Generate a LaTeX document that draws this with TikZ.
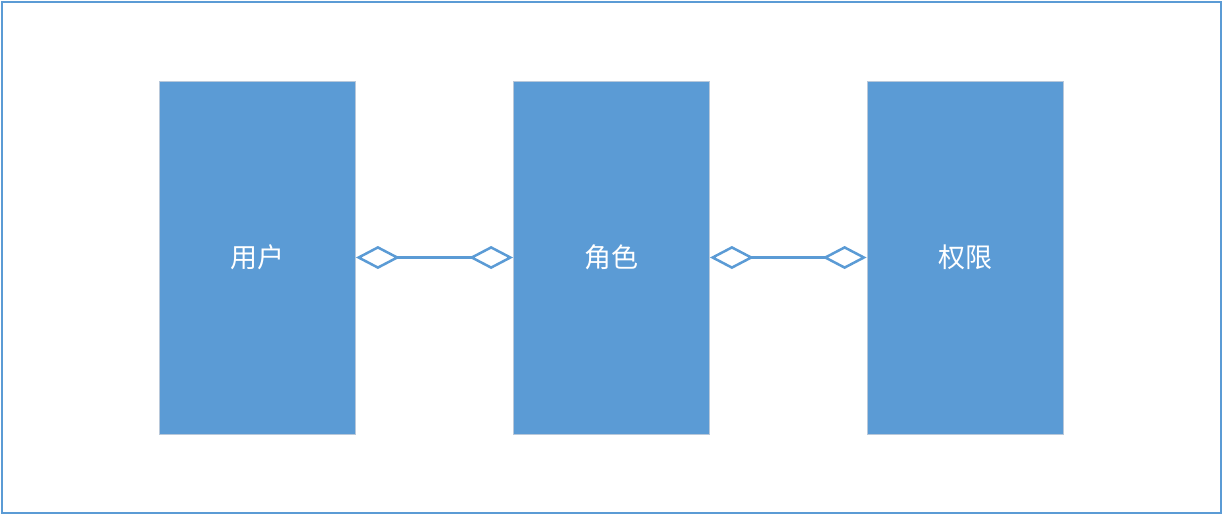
\documentclass[tikz,border=0pt]{standalone}
\usepackage{fontspec}
\newfontfamily\cjk{Noto Sans CJK SC}
\usetikzlibrary{arrows.meta}
\definecolor{mblue}{HTML}{5B9BD5}
\definecolor{mgray}{HTML}{B8C8DA}
\begin{document}
\begin{tikzpicture}[x=1pt,y=-1pt,
  entity/.style={fill=mblue,draw=mgray,line width=0.8pt,minimum width=196pt,minimum height=353pt,inner sep=0pt,text=white,font=\fontsize{27}{32}\selectfont\cjk},
  agg/.style={draw=mblue,line width=2.5pt,{Diamond[open,length=44pt,width=23pt,line width=2.5pt]}-{Diamond[open,length=44pt,width=23pt,line width=2.5pt]}}]
\useasboundingbox (0,0) rectangle (1223,515);
\draw[draw=mblue,line width=2pt] (2,2) rectangle (1221,513);
\node[entity] (u) at (257.5,257.5) {用户};
\node[entity] (r) at (611.5,257.5) {角色};
\node[entity] (p) at (965,257.5) {权限};
\draw[agg] (u) -- (r);
\draw[agg] (r) -- (p);
\end{tikzpicture}
\end{document}
